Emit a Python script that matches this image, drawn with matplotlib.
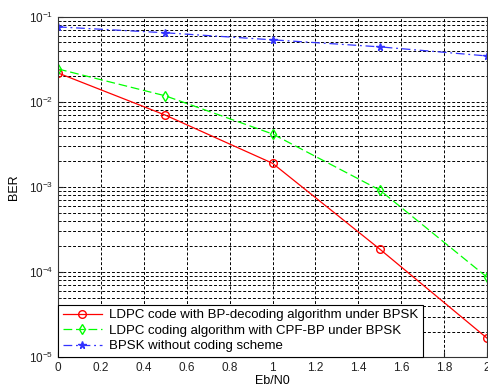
import matplotlib
matplotlib.use("Agg")
import matplotlib.pyplot as plt
from matplotlib.ticker import LogLocator, NullFormatter

plt.rcParams['font.family'] = ['Liberation Sans', 'DejaVu Sans']

ebn0 = [0, 0.5, 1, 1.5, 2]
ber_bp = [0.0219, 0.0070, 0.0019, 1.86e-4, 1.67e-5]
ber_cpf = [0.0244, 0.0118, 0.0042, 0.00092, 8.7e-5]
ber_uncoded = [0.0762, 0.065, 0.0537, 0.0444, 0.0347]
labels = ['LDPC code with BP-decoding algorithm under BPSK',
          'LDPC coding algorithm with CPF-BP under BPSK',
          'BPSK without coding scheme']
xticks = [0, 0.2, 0.4, 0.6, 0.8, 1, 1.2, 1.4, 1.6, 1.8, 2]

fig = plt.figure(figsize=(4.89, 3.92), dpi=100)
ax = fig.add_axes([0.1186, 0.089, 0.8774, 0.868])

ax.semilogy(ebn0, ber_bp, '-', color='#ff0000', lw=0.9, marker='o', ms=5.5,
            mfc='none', mec='#ff0000', label=labels[0])
ax.semilogy(ebn0, ber_cpf, '--', color='#00ff00', lw=0.9, marker='d', ms=5.5,
            mfc='none', mec='#00ff00', label=labels[1], dashes=(7, 3))
ax.semilogy(ebn0, ber_uncoded, '-.', color='#3333ff', lw=0.9, marker='*', ms=5.5,
            mfc='#3333ff', mec='#3333ff', label=labels[2], dashes=(7, 3, 1.5, 3))

ax.set_xlim(0, 2)
ax.set_ylim(1e-5, 1e-1)
ax.set_xticks(xticks)
ax.set_xticklabels([('%g' % t) for t in xticks])
ax.yaxis.set_minor_locator(LogLocator(base=10, subs=range(2, 10), numticks=20))
ax.yaxis.set_minor_formatter(NullFormatter())
ax.grid(True, which='major', color='black', linestyle=(0, (3, 2)), lw=0.7)
ax.grid(True, which='minor', axis='y', color='black', linestyle=(0, (3, 2)), lw=0.7)
ax.tick_params(which='both', direction='in', labelsize=8.5, colors='#222222')
ax.tick_params(which='minor', length=2)
for s in ax.spines.values():
    s.set_color('#333333')
ax.set_xlabel('Eb/N0', fontsize=9, labelpad=1)
ax.set_ylabel('BER', fontsize=9, labelpad=6)

leg = ax.legend(loc='lower left', fontsize=9.5, fancybox=False, framealpha=1,
                edgecolor='black', borderaxespad=0, handlelength=3.0,
                borderpad=0.35, labelspacing=0.25, handletextpad=0.5)
leg.get_frame().set_linewidth(0.8)

fig.savefig('out.png', dpi=100)
